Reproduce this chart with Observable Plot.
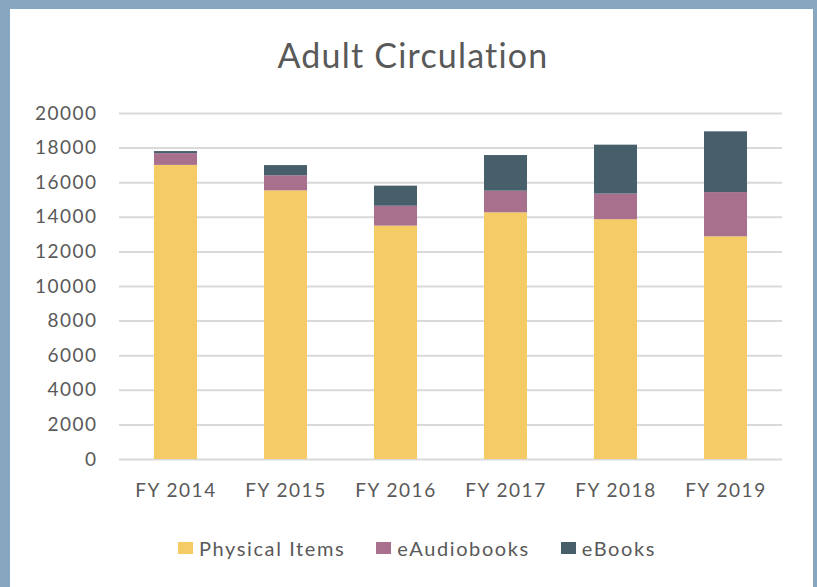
<!DOCTYPE html>
<html><head><meta charset="utf-8">
<script src="https://cdn.jsdelivr.net/npm/d3@7"></script>
<script src="https://cdn.jsdelivr.net/npm/@observablehq/plot@0.6"></script>
<style>
body{margin:0;background:#87a7c1;width:817px;height:587px;overflow:hidden;position:relative;font-family:Lato,sans-serif;color:#595959}
#panel{position:absolute;left:10px;top:9px;width:803px;height:590px;background:#fff;}
#title{position:absolute;left:0;width:826px;text-align:center;top:38px;font-size:34px;line-height:34px;letter-spacing:1.2px}
#chart{position:absolute;left:0;top:90px}
#chart svg text{letter-spacing:1.5px}
#legend{position:absolute;top:538px;left:178px;display:flex;align-items:center;font-size:20px;line-height:20px;letter-spacing:1.6px;white-space:nowrap}
#legend .sw{display:inline-block;width:15px;height:12px;margin-right:6px}
#legend .it{display:flex;align-items:center;margin-right:31px}
</style>
</head><body>
<div id="panel"></div>
<div id="title">Adult Circulation</div>
<div id="chart"></div>
<div id="legend"></div>
<script>
const years = ["FY 2014","FY 2015","FY 2016","FY 2017","FY 2018","FY 2019"];
const physical = [17000,15530,13490,14260,13860,12870];
const eaudio = [680,870,1150,1250,1480,2560];
const ebooks = [120,590,1160,2060,2830,3510];
const seriesNames = ["Physical Items","eAudiobooks","eBooks"];
const seriesColors = ["#f5cb65","#a9708e","#475f6b"];
const yTicks = [0,2000,4000,6000,8000,10000,12000,14000,16000,18000,20000];

const seriesValues = [physical, eaudio, ebooks];
const data = [];
seriesNames.forEach((s, si) => years.forEach((y, i) => data.push({year: y, series: s, value: seriesValues[si][i]})));

const chart = Plot.plot({
  width: 817, height: 430,
  marginTop: 23, marginBottom: 61, marginLeft: 119, marginRight: 35,
  style: {fontFamily: "Lato, sans-serif", fontSize: "19px", color: "#595959", background: "none"},
  x: {domain: years, paddingInner: 0.61, paddingOuter: 0.305, label: null, tickSize: 0, tickPadding: 24},
  y: {domain: [0, 20000], ticks: yTicks, tickFormat: "d", label: null, tickSize: 0, tickPadding: 22},
  color: {domain: seriesNames, range: seriesColors},
  marks: [
    Plot.gridY(yTicks, {stroke: "#d9d9d9", strokeWidth: 2, strokeOpacity: 1}),
    Plot.barY(data, {x: "year", y: "value", fill: "series"})
  ]
});
document.getElementById("chart").appendChild(chart);

const legend = document.getElementById("legend");
seriesNames.forEach((s, i) => {
  const it = document.createElement("span");
  it.className = "it";
  const sw = document.createElement("span");
  sw.className = "sw";
  sw.style.background = seriesColors[i];
  it.appendChild(sw);
  it.appendChild(document.createTextNode(s));
  legend.appendChild(it);
});
</script>
</body></html>
